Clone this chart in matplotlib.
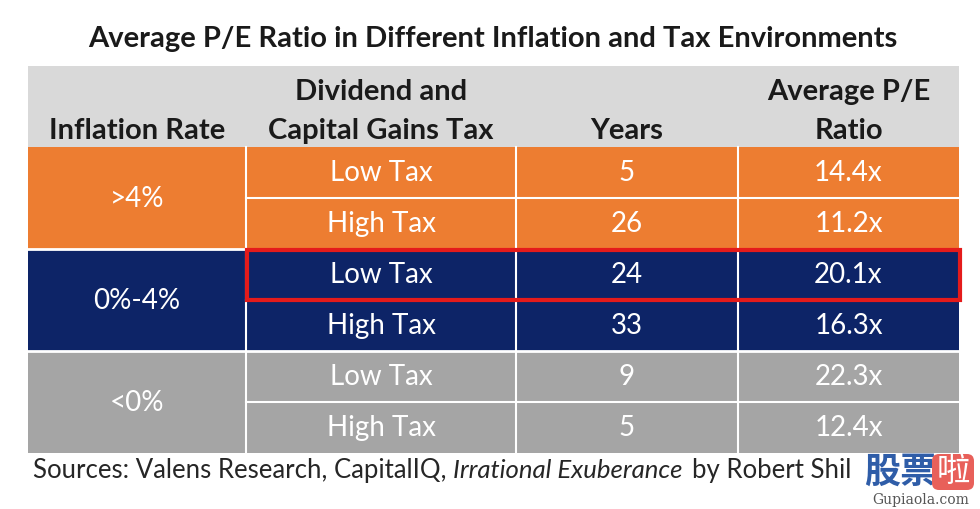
import matplotlib.pyplot as plt
from matplotlib.patches import Rectangle, FancyBboxPatch

# table content
title = 'Average P/E Ratio in Different Inflation and Tax Environments'
headers = ['Inflation Rate', 'Dividend and\nCapital Gains Tax', 'Years', 'Average P/E\nRatio']
inflation = ['>4%', '0%-4%', '<0%']
tax = ['Low Tax', 'High Tax', 'Low Tax', 'High Tax', 'Low Tax', 'High Tax']
years = [5, 26, 24, 33, 9, 5]
pe_ratio = [14.4, 11.2, 20.1, 16.3, 22.3, 12.4]
group_colors = ['#ED7D31', '#0D2467', '#A5A5A5']
highlight_row = 2
source_text = 'Sources: Valens Research, CapitalIQ, '

plt.rcParams['font.family'] = ['Lato', 'DejaVu Sans']

fig = plt.figure(figsize=(9.8, 5.1), dpi=100)
ax = fig.add_axes([0, 0, 1, 1])
ax.set_xlim(0, 980)
ax.set_ylim(510, 0)
ax.axis('off')

# layout in pixels
col_x = [28, 246, 516, 738, 959]
head_top, head_bot = 67, 148
row_h = 51

ax.text(493, 39, title, ha='center', va='center', fontsize=21, fontweight='bold', color='#1a1a1a')

# header
ax.add_patch(Rectangle((col_x[0], head_top), col_x[-1] - col_x[0], head_bot - head_top,
                       facecolor='#D9D9D9', edgecolor='none'))
for j, h in enumerate(headers):
    cx = (col_x[j] + col_x[j + 1]) / 2
    ax.text(cx, 139, h, ha='center', va='baseline', fontsize=21, fontweight='bold',
            color='#1a1a1a', linespacing=1.62)

# body
for g, lab in enumerate(inflation):
    y0 = head_bot + g * 2 * row_h
    ax.add_patch(Rectangle((col_x[0], y0), col_x[-1] - col_x[0], 2 * row_h,
                           facecolor=group_colors[g], edgecolor='none'))
    ax.text((col_x[0] + col_x[1]) / 2, y0 + row_h, lab, ha='center', va='center',
            fontsize=20, color='white')
    if g:
        ax.plot([col_x[0], col_x[-1]], [y0, y0], color='white', lw=2)

for i in range(len(tax)):
    y0 = head_bot + i * row_h
    cy = y0 + row_h / 2
    vals = [tax[i], str(years[i]), f'{pe_ratio[i]:.1f}x']
    for j, v in enumerate(vals):
        cx = (col_x[j + 1] + col_x[j + 2]) / 2
        ax.text(cx, cy, v, ha='center', va='center', fontsize=20, color='white')
    if i % 2 == 1:
        ax.plot([col_x[1], col_x[-1]], [y0, y0], color='white', lw=1.5)

for x in col_x[1:-1]:
    ax.plot([x, x], [head_bot, head_bot + 6 * row_h], color='white', lw=1.5)

# red highlight around one row
hy = head_bot + highlight_row * row_h
ax.add_patch(Rectangle((col_x[1] + 1, hy + 1), col_x[-1] - col_x[1], row_h - 1,
                       facecolor='none', edgecolor='#E41B1B', lw=3, zorder=4))

# sources line (cut off by the watermark in the original)
t = ax.text(33, 471, source_text, ha='left', va='center', fontsize=18.5, color='#262626')
fig.canvas.draw()
bb = t.get_window_extent().transformed(ax.transData.inverted())
t2 = ax.text(bb.x1, 471, 'Irrational Exuberance', ha='left', va='center', fontsize=18.5,
             style='italic', color='#262626')
bb2 = t2.get_window_extent().transformed(ax.transData.inverted())
ax.text(bb2.x1 + 9, 471, 'by Robert Shil', ha='left', va='center', fontsize=18.5,
        color='#262626')

# watermark
ax.text(864, 472, '股票', ha='left', va='center', fontsize=26, fontweight='bold',
        color='#2F5DA8', family=['Noto Sans CJK SC'], zorder=6)
ax.add_patch(FancyBboxPatch((932, 455), 42, 36, boxstyle='round,pad=0,rounding_size=7',
                            facecolor='#E8605A', edgecolor='none', zorder=6))
ax.text(953, 472, '啦', ha='center', va='center', fontsize=24, color='white',
        family=['Noto Sans CJK SC'], zorder=7)
ax.text(921, 500, 'Gupiaola.com', ha='center', va='center', fontsize=10,
        family=['DejaVu Serif'], color='#555555', zorder=6)

fig.savefig('out.png', dpi=100)
